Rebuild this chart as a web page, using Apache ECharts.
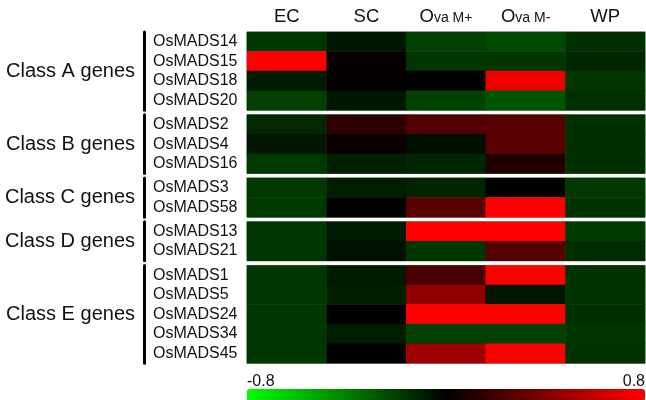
<!DOCTYPE html>
<html><head><meta charset="utf-8">
<script src="https://cdn.jsdelivr.net/npm/echarts@6/dist/echarts.min.js"></script>
<style>html,body{margin:0;padding:0;background:#fff}#c{width:646px;height:400px}</style>
</head><body><div id="c"></div>
<script>
const columns = ['EC', 'SC', 'Ova M+', 'Ova M-', 'WP'];
const classNames = ['Class A genes', 'Class B genes', 'Class C genes', 'Class D genes', 'Class E genes'];
const genesA = ['OsMADS14', 'OsMADS15', 'OsMADS18', 'OsMADS20'];
const genesB = ['OsMADS2', 'OsMADS4', 'OsMADS16'];
const genesC = ['OsMADS3', 'OsMADS58'];
const genesD = ['OsMADS13', 'OsMADS21'];
const genesE = ['OsMADS1', 'OsMADS5', 'OsMADS24', 'OsMADS34', 'OsMADS45'];
// values per gene, in column order: EC, SC, Ova M+, Ova M-, WP
const valuesA = [
  [-0.17, -0.07, -0.20, -0.23, -0.15],
  [ 0.80,  0.02, -0.17, -0.17, -0.12],
  [-0.08,  0.01,  0.00,  0.75, -0.17],
  [-0.20, -0.07, -0.21, -0.27, -0.15]
];
const valuesB = [
  [-0.13,  0.15,  0.25,  0.27, -0.15],
  [-0.07,  0.03, -0.05,  0.28, -0.15],
  [-0.18, -0.10, -0.12,  0.10, -0.15]
];
const valuesC = [
  [-0.18, -0.09, -0.11,  0.01, -0.18],
  [-0.18,  0.01,  0.28,  0.80, -0.16]
];
const valuesD = [
  [-0.17, -0.08,  0.80,  0.80, -0.18],
  [-0.17, -0.06, -0.17,  0.27, -0.14]
];
const valuesE = [
  [-0.17, -0.08,  0.23,  0.80, -0.16],
  [-0.17, -0.10,  0.45, -0.07, -0.16],
  [-0.17,  0.01,  0.80,  0.80, -0.15],
  [-0.17, -0.09, -0.20, -0.20, -0.17],
  [-0.17,  0.01,  0.50,  0.80, -0.16]
];
const scaleMin = -0.8, scaleMax = 0.8;

const geneGroups = [genesA, genesB, genesC, genesD, genesE];
const valueGroups = [valuesA, valuesB, valuesC, valuesD, valuesE];
const FONT = "'Liberation Sans', Arial, sans-serif";
const top0 = 32, rowH = 19.55, gap = 4.6, gridLeft = 247, gridRight = 1;

const grids = [], xAxes = [], yAxes = [], series = [];
let y = top0;
geneGroups.forEach((genes, i) => {
  const h = genes.length * rowH;
  grids.push({left: gridLeft, right: gridRight, top: y, height: h, show: true,
    borderColor: '#6f8f6f', borderWidth: 1, backgroundColor: 'transparent'});
  xAxes.push({
    type: 'category', gridIndex: i, data: columns, position: 'top', show: i === 0,
    axisLine: {show: false}, axisTick: {show: false}, splitLine: {show: false},
    axisLabel: {
      interval: 0, hideOverlap: false,
      margin: 6, color: '#111', fontFamily: FONT,
      formatter: v => v.charAt(0) === 'O'
        ? '{big|O}{small|' + v.slice(1) + '}'
        : '{big|' + v + '}',
      rich: {
        big: {fontSize: 18.5, fontFamily: FONT, color: '#111', verticalAlign: 'bottom'},
        small: {fontSize: 14, fontFamily: FONT, color: '#111', verticalAlign: 'bottom', padding: [0, 0, 1, 0]}
      }
    }
  });
  yAxes.push({
    type: 'category', gridIndex: i, data: genes, inverse: true, offset: 103,
    axisLine: {show: true, lineStyle: {color: '#000', width: 3}},
    axisTick: {show: false}, splitLine: {show: false},
    axisLabel: {interval: 0, hideOverlap: false, align: 'left', margin: -9, fontSize: 16, color: '#111', fontFamily: FONT},
    name: classNames[i], nameLocation: 'middle', nameRotate: 0, nameGap: 9,
    nameTextStyle: {fontSize: 20, color: '#111', fontFamily: FONT, align: 'right', verticalAlign: 'middle'}
  });
  const data = [];
  valueGroups[i].forEach((row, r) => row.forEach((v, c) => data.push([c, r, v])));
  series.push({type: 'heatmap', xAxisIndex: i, yAxisIndex: i, data: data,
    itemStyle: {borderWidth: 0}, emphasis: {disabled: true}});
  y += h + gap;
});

const chart = echarts.init(document.getElementById('c'));
chart.setOption({
  animation: false,
  backgroundColor: '#fff',
  grid: grids, xAxis: xAxes, yAxis: yAxes, series: series,
  visualMap: {
    type: 'continuous', min: scaleMin, max: scaleMax, orient: 'horizontal',
    left: gridLeft, top: 389, itemWidth: 12, itemHeight: 398, padding: 0,
    calculable: false, seriesIndex: [0, 1, 2, 3, 4],
    inRange: {color: ['#00ff00', '#000000', '#ff0000']}
  },
  graphic: [
    {type: 'text', left: gridLeft, top: 374, style: {text: String(scaleMin), fontSize: 16, fill: '#111', fontFamily: FONT}},
    {type: 'text', right: gridRight, top: 374, style: {text: String(scaleMax), fontSize: 16, fill: '#111', fontFamily: FONT}}
  ]
});
</script></body></html>
